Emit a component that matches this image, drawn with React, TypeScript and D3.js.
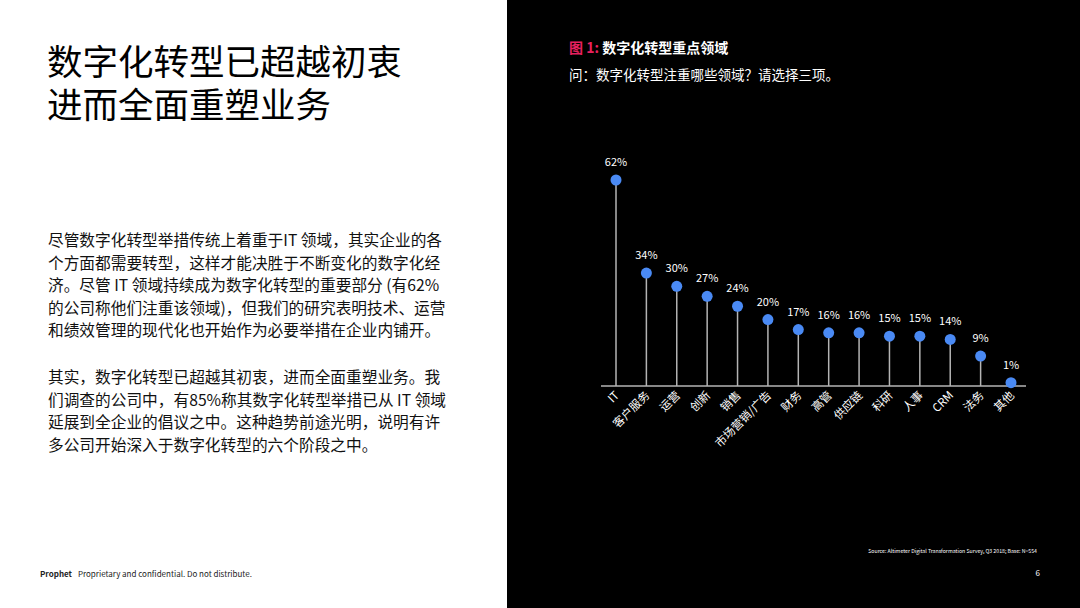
import React, { useEffect, useRef } from "react";
import * as d3 from "d3";

const categories = ["IT", "客户服务", "运营", "创新", "销售", "市场营销/广告", "财务", "高管", "供应链", "科研", "人事", "CRM", "法务", "其他"];
const values = [62, 34, 30, 27, 24, 20, 17, 16, 16, 15, 15, 14, 9, 1];

const titleLines = ["数字化转型已超越初衷", "进而全面重塑业务"];
const para1 = [
  "尽管数字化转型举措传统上着重于IT 领域，其实企业的各",
  "个方面都需要转型，这样才能决胜于不断变化的数字化经",
  "济。尽管 IT 领域持续成为数字化转型的重要部分 (有62%",
  "的公司称他们注重该领域)，但我们的研究表明技术、运营",
  "和绩效管理的现代化也开始作为必要举措在企业内铺开。",
];
const para2 = [
  "其实，数字化转型已超越其初衷，进而全面重塑业务。我",
  "们调查的公司中，有85%称其数字化转型举措已从 IT 领域",
  "延展到全企业的倡议之中。这种趋势前途光明，说明有许",
  "多公司开始深入于数字化转型的六个阶段之中。",
];

const FONT = "'Noto Sans CJK SC', 'Noto Sans', sans-serif";

const App = () => {
  const ref = useRef(null);

  useEffect(() => {
    const width = 1080;
    const height = 608;
    const svg = d3.select(ref.current);
    svg.selectAll("*").remove();
    svg.attr("width", width).attr("height", height);

    // panels
    svg.append("rect").attr("x", 0).attr("y", 0).attr("width", 507).attr("height", height).attr("fill", "#ffffff");
    svg.append("rect").attr("x", 507).attr("y", 0).attr("width", width - 507).attr("height", height).attr("fill", "#000000");

    // left side text
    svg
      .selectAll("text.title")
      .data(titleLines)
      .enter()
      .append("text")
      .attr("class", "title")
      .attr("x", 47)
      .attr("y", (d, i) => 75 + i * 43)
      .style("font-family", FONT)
      .style("font-size", "35.5px")
      .attr("fill", "#000")
      .text((d) => d);

    const para = (lines, y0) =>
      svg
        .append("g")
        .selectAll("text")
        .data(lines)
        .enter()
        .append("text")
        .attr("x", 48)
        .attr("y", (d, i) => y0 + i * 22.5)
        .style("font-family", FONT)
        .style("font-size", "15.7px")
        .attr("fill", "#111")
        .text((d) => d);
    para(para1, 246);
    para(para2, 383);

    const foot = svg.append("text").attr("x", 40).attr("y", 577).style("font-family", FONT).style("font-size", "8px").attr("fill", "#222");
    foot.append("tspan").style("font-weight", "bold").text("Prophet");
    foot.append("tspan").attr("dx", 6).text("Proprietary and confidential. Do not distribute.");

    // right side header
    const h = svg.append("text").attr("x", 569).attr("y", 53).style("font-family", FONT).style("font-size", "14px").style("font-weight", "bold");
    h.append("tspan").attr("fill", "#e8205f").text("图 1: ");
    h.append("tspan").attr("fill", "#ffffff").text("数字化转型重点领域");
    svg
      .append("text")
      .attr("x", 569)
      .attr("y", 80)
      .style("font-family", FONT)
      .style("font-size", "13.5px")
      .attr("fill", "#ffffff")
      .text("问：数字化转型注重哪些领域？请选择三项。");

    // chart
    const x = d3.scalePoint().domain(categories).range([616, 1011]);
    const y = d3.scaleLinear().domain([0, 62]).range([386, 180]);

    svg.append("line").attr("x1", 601).attr("x2", 1026).attr("y1", y(0)).attr("y2", y(0)).attr("stroke", "#b4b4b4").attr("stroke-width", 1.5);

    const data = categories.map((c, i) => ({ c, v: values[i] }));
    const g = svg.append("g");

    g.selectAll("line.stem")
      .data(data)
      .enter()
      .append("line")
      .attr("class", "stem")
      .attr("x1", (d) => x(d.c))
      .attr("x2", (d) => x(d.c))
      .attr("y1", y(0))
      .attr("y2", (d) => y(d.v))
      .attr("stroke", "#b4b4b4")
      .attr("stroke-width", 1.5);

    g.selectAll("circle")
      .data(data)
      .enter()
      .append("circle")
      .attr("cx", (d) => x(d.c))
      .attr("cy", (d) => y(d.v))
      .attr("r", 5.5)
      .attr("fill", "#4a8af4");

    g.selectAll("text.val")
      .data(data)
      .enter()
      .append("text")
      .attr("class", "val")
      .attr("x", (d) => x(d.c))
      .attr("y", (d) => y(d.v) - 14)
      .attr("text-anchor", "middle")
      .style("font-family", FONT)
      .style("font-size", "11px")
      .attr("fill", "#ffffff")
      .text((d) => d.v + "%");

    g.selectAll("text.cat")
      .data(data)
      .enter()
      .append("text")
      .attr("class", "cat")
      .attr("text-anchor", "end")
      .attr("transform", (d) => `translate(${x(d.c) + 4},${y(0) + 10}) rotate(-45)`)
      .style("font-family", FONT)
      .style("font-size", "11.5px")
      .attr("fill", "#ffffff")
      .text((d) => d.c);

    // source + page number
    svg
      .append("text")
      .attr("x", 1037)
      .attr("y", 553)
      .attr("text-anchor", "end")
      .style("font-family", FONT)
      .style("font-size", "5.2px")
      .attr("fill", "#ffffff")
      .text("Source: Altimeter Digital Transformation Survey, Q3 2018; Base: N=554");
    svg
      .append("text")
      .attr("x", 1040)
      .attr("y", 576)
      .attr("text-anchor", "end")
      .style("font-family", FONT)
      .style("font-size", "8px")
      .attr("fill", "#ffffff")
      .text("6");
  }, []);

  return <svg ref={ref} style={{ position: "absolute", left: 0, top: 0 }}></svg>;
};

export default App;
